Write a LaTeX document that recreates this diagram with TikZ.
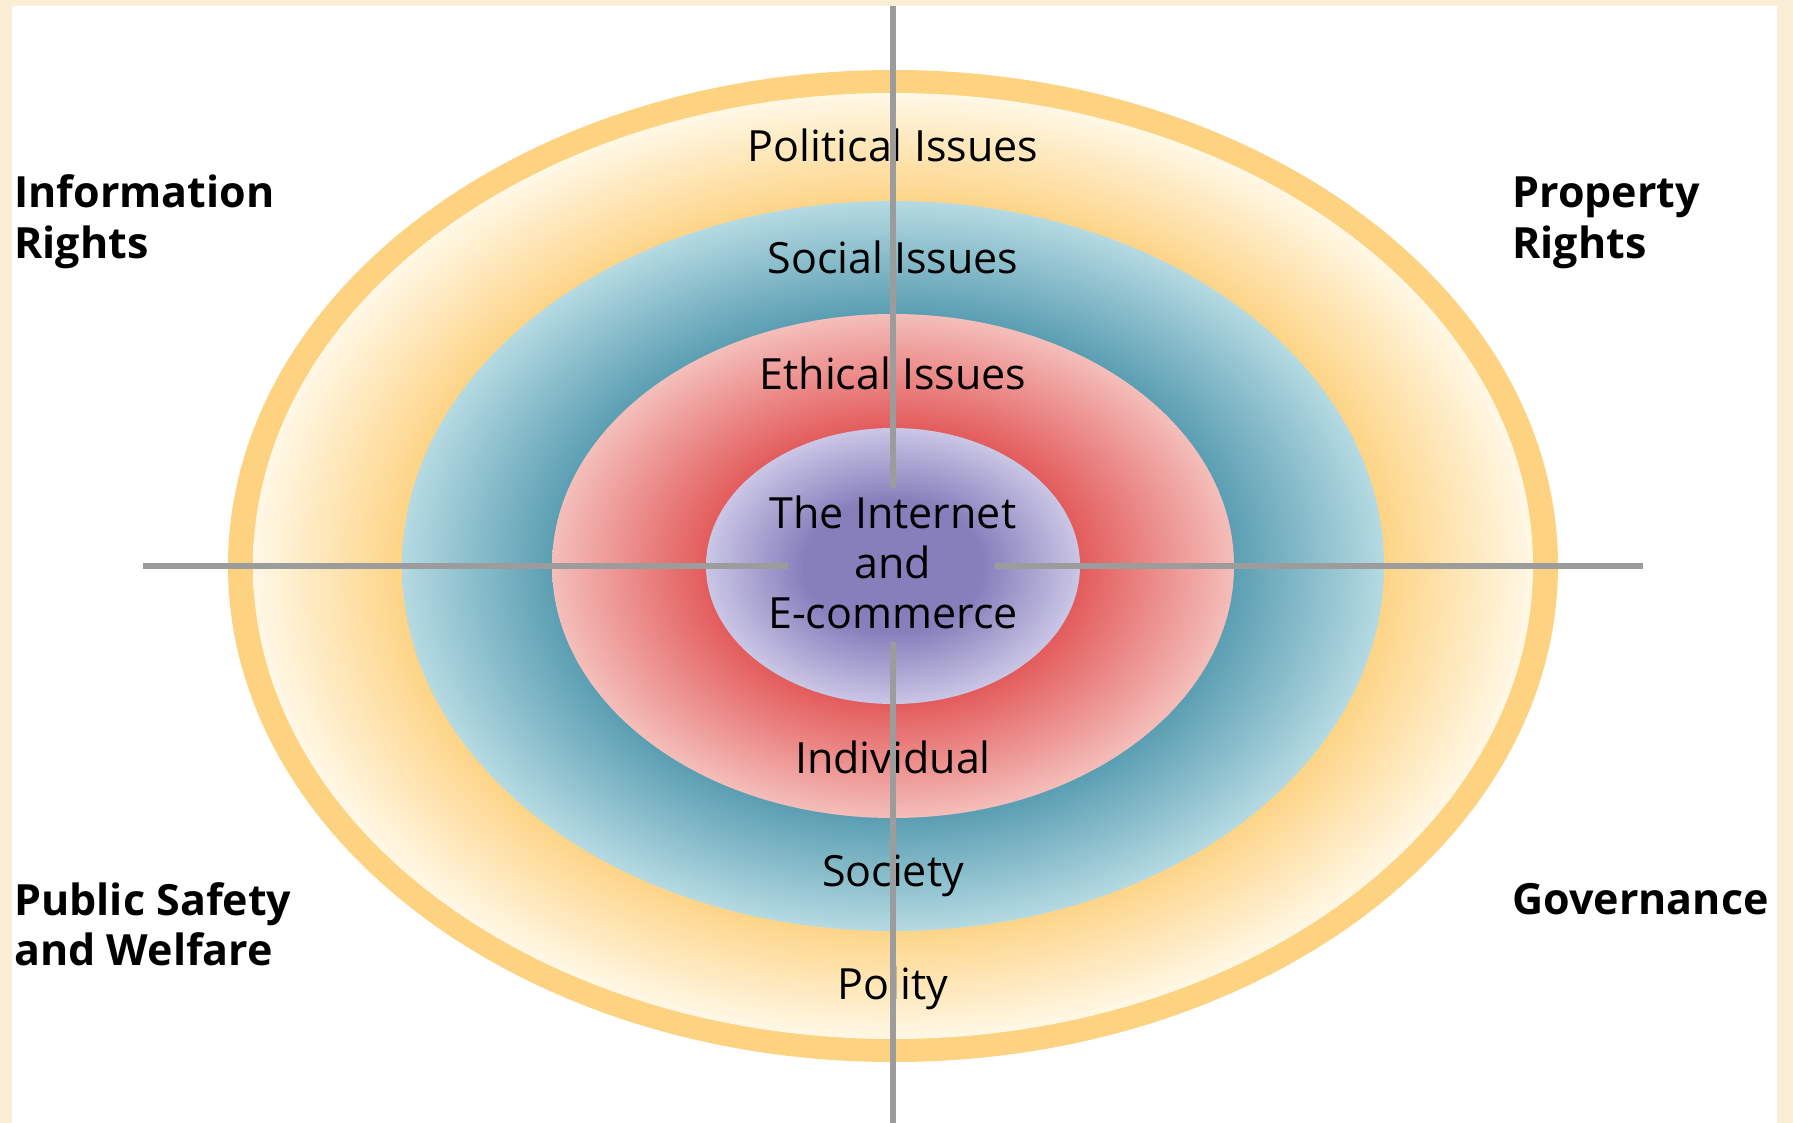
\documentclass[tikz,border=0pt]{standalone}
\usepackage{xcolor}
\usepackage{fontspec}
\setmainfont{Open Sans}
\usepackage{tikz}

\definecolor{bgcream}{HTML}{FAEFD6}
\definecolor{rimyellow}{HTML}{FDD280}
\definecolor{yellowin}{HTML}{FDD487}
\definecolor{yellowout}{HTML}{FFF8E6}
\definecolor{bluein}{HTML}{5C9FB3}
\definecolor{blueout}{HTML}{B5DAE2}
\definecolor{redin}{HTML}{E35C5C}
\definecolor{redout}{HTML}{F4BEBA}
\definecolor{purplein}{HTML}{877FBC}
\definecolor{purpleout}{HTML}{CAC6E5}
\definecolor{axisgray}{HTML}{9C9C9C}

% 每一环：内边深，外边浅
\pgfdeclareradialshading{yellowring}{\pgfpoint{0bp}{0bp}}{color(0bp)=(yellowin); color(19.2bp)=(yellowin); color(25bp)=(yellowout); color(50bp)=(yellowout)}
\pgfdeclareradialshading{bluering}{\pgfpoint{0bp}{0bp}}{color(0bp)=(bluein); color(17.4bp)=(bluein); color(25bp)=(blueout); color(50bp)=(blueout)}
\pgfdeclareradialshading{redring}{\pgfpoint{0bp}{0bp}}{color(0bp)=(redin); color(13.7bp)=(redin); color(25bp)=(redout); color(50bp)=(redout)}
\pgfdeclareradialshading{purplecore}{\pgfpoint{0bp}{0bp}}{color(0bp)=(purplein); color(12bp)=(purplein); color(25bp)=(purpleout); color(50bp)=(purpleout)}

\tikzset{
  axis line/.style={axisgray, line width=2.8pt},
  ring label/.style={inner sep=0pt, font=\fontsize{21.5}{25}\selectfont, align=center},
  corner label/.style={inner sep=0pt, font=\fontsize{21.5}{25}\selectfont\bfseries, align=left},
}

\begin{document}
\begin{tikzpicture}[x=0.5pt,y=-0.5pt]
%1. 底色和白色画板
\fill[bgcream] (0,0) rectangle (1793,1123);
\fill[white] (12,6) rectangle (1777,1123);
\useasboundingbox (0,0) rectangle (1793,1123);

%2. 标记重要的点
\coordinate (O) at (893,566);
\coordinate (ytop) at (893,6);
\coordinate (yup) at (893,488);
\coordinate (ydown) at (893,642);
\coordinate (ybot) at (893,1123);
\coordinate (xleft) at (143,566);
\coordinate (xin1) at (788,566);
\coordinate (xin2) at (995,566);
\coordinate (xright) at (1643,566);

%3. 同心椭圆
\fill[rimyellow] (O) ellipse [x radius=665, y radius=496];
\foreach \rx/\ry/\sh in
	{640/473/yellowring, 491/365/bluering, 341/252/redring, 187/138/purplecore}
	{\shade[shading=\sh] (O) ellipse [x radius=\rx, y radius=\ry];
	}

%4. 各环文字 (多行时 base 取最后一行)
\node[ring label, anchor=base] (political) at (893,162) {Political Issues};
\node[ring label, anchor=base] (social) at (893,274) {Social Issues};
\node[ring label, anchor=base] (ethical) at (893,389) {Ethical Issues};
\node[ring label, anchor=base] (core) at (893,628) {The Internet\\and\\E-commerce};
\node[ring label, anchor=base] (individual) at (893,773) {Individual};
\node[ring label, anchor=base] (society) at (893,886) {Society};
\node[ring label, anchor=base] (polity) at (893,999) {Polity};

%5. 四角文字
\node[corner label, anchor=base west] (info) at (14,258) {Information\\Rights};
\node[corner label, anchor=base west] (property) at (1512,258) {Property\\Rights};
\node[corner label, anchor=base west] (safety) at (14,965) {Public Safety\\and Welfare};
\node[corner label, anchor=base west] (governance) at (1512,914) {Governance};

%6. 十字线
\draw[axis line] (ytop) -- (yup);
\draw[axis line] (ydown) -- (ybot);
\draw[axis line] (xleft) -- (xin1);
\draw[axis line] (xin2) -- (xright);
\end{tikzpicture}
\end{document}
